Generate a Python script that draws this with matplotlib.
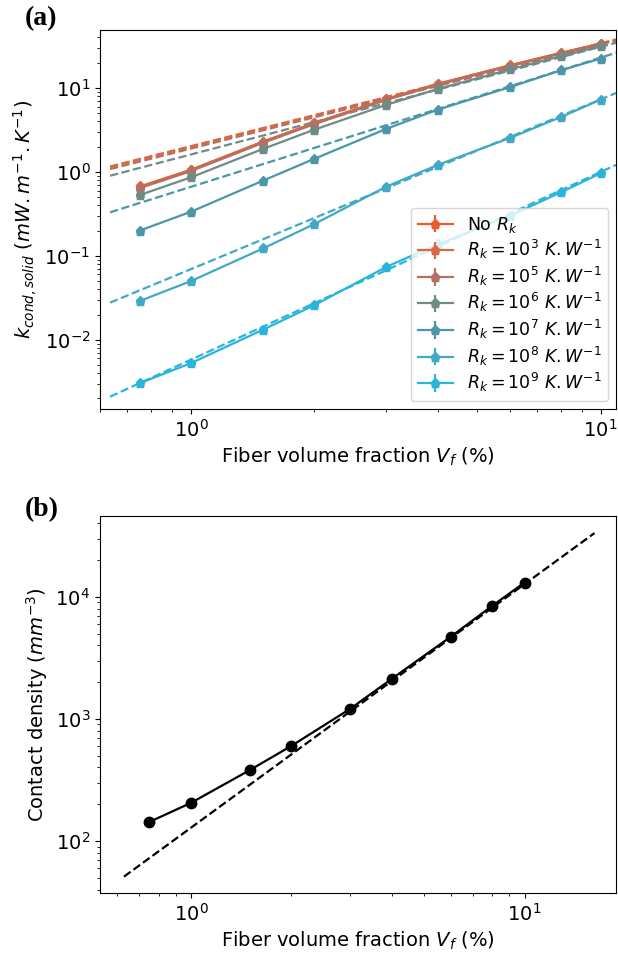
import numpy as np
import matplotlib
matplotlib.use("Agg")
import matplotlib.pyplot as plt

#------------------------------------- data -------------------------------------#

vf = [0.75, 1.0, 1.5, 2.0, 3.0, 4.0, 6.0, 8.0, 10.0]

labels = ["No $R_k$",
          "$R_k = 10^3\\ K.W^{-1}$",
          "$R_k = 10^5\\ K.W^{-1}$",
          "$R_k = 10^6\\ K.W^{-1}$",
          "$R_k = 10^7\\ K.W^{-1}$",
          "$R_k = 10^8\\ K.W^{-1}$",
          "$R_k = 10^9\\ K.W^{-1}$"]
colors = ["#ee5a30", "#dd6741", "#b27262", "#6f8b87", "#4b96a9", "#41a9c6", "#29b5db"]

k_no_rk = [0.67, 1.06, 2.30, 3.82, 7.4, 11.2, 18.6, 26.2, 33.8]
k_1e3 = [0.66, 1.05, 2.28, 3.80, 7.35, 11.1, 18.5, 26.0, 33.6]
k_1e5 = [0.64, 1.02, 2.22, 3.70, 7.2, 10.9, 18.2, 25.6, 33.0]
k_1e6 = [0.53, 0.86, 1.88, 3.18, 6.3, 9.7, 16.6, 23.9, 31.4]
k_1e7 = [0.20, 0.335, 0.787, 1.43, 3.26, 5.5, 10.2, 16.2, 22.4]
k_1e8 = [0.029, 0.050, 0.1225, 0.239, 0.668, 1.21, 2.53, 4.5, 7.25]
k_1e9 = [0.00304, 0.00527, 0.0132, 0.0258, 0.074, 0.137, 0.30, 0.571, 0.964]
k_all = [k_no_rk, k_1e3, k_1e5, k_1e6, k_1e7, k_1e8, k_1e9]

# power-law fits (dashed), given by their two end values
fit_x = [0.635, 10.9]
fit_lo = [1.16, 1.14, 1.08, 0.90, 0.33, 0.0277, 0.0021]
fit_hi = [37.8, 37.5, 36.5, 34.5, 26.2, 8.7, 1.21]

density = [143, 205, 380, 601, 1208, 2130, 4700, 8440, 13100]
dens_fit_x = [0.63, 16.2]
dens_fit_y = [51, 33300]

#------------------------------------- figure -------------------------------------#

plt.rcParams["font.size"] = 14
fig = plt.figure(figsize=(6.18, 9.58), dpi=100)

ax1 = fig.add_axes([0.1618, 0.5731, 0.835, 0.3956])
for i in range(len(k_all)):
    ax1.errorbar(vf, k_all[i], yerr=np.zeros(len(vf)), color=colors[i], marker="p",
                 markersize=6.5, lw=1.6, label=labels[i])
    ax1.plot(fit_x, [fit_lo[i], fit_hi[i]], "--", color=colors[i], lw=1.6)
ax1.set_xscale("log")
ax1.set_yscale("log")
ax1.set_xlim(0.6, 10.9)
ax1.set_ylim(0.0015, 49)
ax1.set_xlabel("Fiber volume fraction $V_f$ (%)")
ax1.set_ylabel("$k_{cond,solid}$ $(mW.m^{-1}.K^{-1})$")
ax1.legend(loc="lower right", fontsize=12.5, labelspacing=0.2, borderaxespad=0.45)

ax2 = fig.add_axes([0.1618, 0.0679, 0.835, 0.3935])
ax2.plot(vf, density, "-o", color="black", markersize=7.5, lw=1.6)
ax2.plot(dens_fit_x, dens_fit_y, "--", color="black", lw=1.6)
ax2.set_xscale("log")
ax2.set_yscale("log")
ax2.set_xlim(0.534, 18.8)
ax2.set_ylim(37.5, 46000)
ax2.set_xlabel("Fiber volume fraction $V_f$ (%)")
ax2.set_ylabel("Contact density $(mm^{-3})$")

fig.text(0.04, 0.981, "(a)", family="Liberation Serif", weight="bold", fontsize=20, va="center")
fig.text(0.04, 0.468, "(b)", family="Liberation Serif", weight="bold", fontsize=20, va="center")

plt.savefig("out.png", dpi=100)
